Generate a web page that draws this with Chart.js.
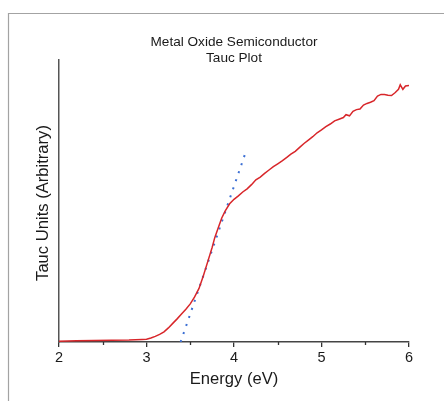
<!doctype html>
<html lang="en">
<head>
<meta charset="utf-8">
<title>Tauc Plot</title>
<script src="https://cdn.jsdelivr.net/npm/chart.js@4/dist/chart.umd.min.js"></script>
<style>
  body { margin: 0; background: #fff; }
  canvas { display: block; }
</style>
</head>
<body>
<canvas id="myChart" width="444" height="401"></canvas>
<script>
var energy = [2.00, 2.20, 2.40, 2.60, 2.80, 2.95, 3.00, 3.05, 3.10, 3.15, 3.20, 3.25, 3.30, 3.35, 3.40,
  3.45, 3.50, 3.55, 3.60, 3.65, 3.70, 3.75, 3.78, 3.82, 3.86, 3.90, 3.95, 4.00, 4.05, 4.10, 4.15,
  4.20, 4.25, 4.30, 4.35, 4.40, 4.45, 4.50, 4.55, 4.60, 4.65, 4.70, 4.75, 4.80, 4.85, 4.90, 4.95,
  5.00, 5.05, 5.10, 5.15, 5.20, 5.25, 5.28, 5.32, 5.36, 5.40, 5.44, 5.48, 5.52, 5.56, 5.60, 5.64,
  5.68, 5.72, 5.76, 5.80, 5.84, 5.88, 5.90, 5.93, 5.96, 6.00];
var tauc = [0.3, 0.4, 0.5, 0.6, 0.7, 0.9, 1.0, 1.4, 2.0, 2.7, 3.6, 5.0, 6.6, 8.2, 9.9,
  11.6, 13.5, 16.0, 19.0, 23.5, 28.5, 33.5, 37.0, 40.5, 44.0, 46.5, 49.0, 50.6, 51.8, 53.2, 54.3,
  55.8, 57.5, 58.5, 59.8, 61.0, 62.2, 63.2, 64.2, 65.4, 66.6, 67.6, 69.0, 70.4, 71.6, 72.8, 74.2,
  75.2, 76.4, 77.3, 78.4, 79.0, 79.6, 80.6, 80.2, 81.8, 82.4, 82.6, 84.0, 84.6, 85.0, 85.6, 87.2,
  87.8, 87.8, 87.5, 87.4, 88.4, 89.6, 91.2, 89.6, 90.8, 91.0];

// linear fit of the absorption edge (dotted)
var fitEnergy = [3.39, 4.13];
var fitTauc = [0, 67];

var xTicks = [2, 3, 4, 5, 6];
var xMinorTicks = [2.5, 3.5, 4.5, 5.5];

var titleLines = ['Metal Oxide Semiconductor', 'Tauc Plot'];
var xTitle = 'Energy (eV)';
var yTitle = 'Tauc Units (Arbitrary)';

function points(xs, ys) {
  return xs.map(function (x, i) { return { x: x, y: ys[i] }; });
}

var FONT = '"Liberation Sans", Arial, sans-serif';

var decor = {
  id: 'decor',
  beforeDraw: function (chart) {
    var ctx = chart.ctx;
    ctx.save();
    ctx.strokeStyle = '#a3a3a3';
    ctx.lineWidth = 1.2;
    ctx.beginPath();
    ctx.moveTo(444, 13.5);
    ctx.lineTo(8.5, 13.5);
    ctx.lineTo(8.5, 401);
    ctx.stroke();
    ctx.restore();
  },
  afterDraw: function (chart) {
    var ctx = chart.ctx;
    var a = chart.chartArea;
    var xs = chart.scales.x;
    ctx.save();
    // minor ticks
    ctx.strokeStyle = '#333';
    ctx.lineWidth = 1.3;
    xMinorTicks.forEach(function (v) {
      var px = Math.round(xs.getPixelForValue(v)) + 0.5;
      ctx.beginPath();
      ctx.moveTo(px, a.bottom);
      ctx.lineTo(px, a.bottom + 3);
      ctx.stroke();
    });
    ctx.fillStyle = '#1a1a1a';
    ctx.textAlign = 'center';
    ctx.textBaseline = 'middle';
    var cx = (a.left + a.right) / 2;
    ctx.font = '13.6px ' + FONT;
    ctx.fillText(titleLines[0], cx, 42);
    ctx.fillText(titleLines[1], cx, 58);
    ctx.font = '16.6px ' + FONT;
    ctx.fillText(xTitle, cx, 379);
    ctx.translate(43, 203);
    ctx.rotate(-Math.PI / 2);
    ctx.fillText(yTitle, 0, 0);
    ctx.restore();
  }
};

var ctx = document.getElementById('myChart').getContext('2d');
var chart = new Chart(ctx, {
  type: 'scatter',
  data: {
    datasets: [{
      label: 'Tauc',
      data: points(energy, tauc),
      showLine: true,
      borderColor: '#d8262a',
      borderWidth: 1.5,
      pointRadius: 0,
      tension: 0
    },
    {
      label: 'Fit',
      data: points(fitEnergy, fitTauc),
      showLine: true,
      borderColor: '#3b6fd4',
      borderWidth: 2,
      borderDash: [2, 6.5],
      pointRadius: 0
    }]
  },
  options: {
    responsive: false,
    animation: false,
    layout: { padding: { left: 0, top: 60, right: 35, bottom: 0 } },
    plugins: {
      legend: { display: false },
      tooltip: { enabled: false }
    },
    scales: {
      x: {
        type: 'linear',
        min: 2,
        max: 6,
        afterBuildTicks: function (s) {
          s.ticks = xTicks.map(function (v) { return { value: v }; });
        },
        afterFit: function (s) { s.height = 59; },
        grid: { drawOnChartArea: false, tickLength: 5, color: '#333', lineWidth: 1.3 },
        border: { display: true, color: '#444', width: 1.5 },
        ticks: { color: '#1a1a1a', font: { family: FONT, size: 14.5 }, padding: 2, maxRotation: 0 }
      },
      y: {
        type: 'linear',
        min: 0,
        max: 100,
        afterFit: function (s) { s.width = 59; },
        grid: { display: false },
        border: { display: true, color: '#555', width: 1.5 },
        ticks: { display: false }
      }
    }
  },
  plugins: [decor]
});
</script>
</body>
</html>
